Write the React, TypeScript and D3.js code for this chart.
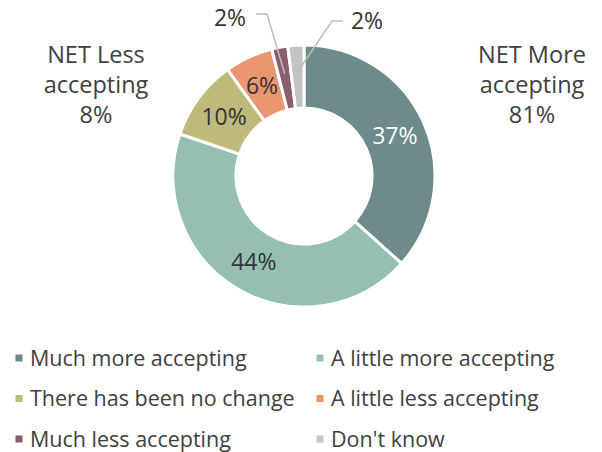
import React from "react";
import * as d3 from "d3";

const categories = [
  "Much more accepting",
  "A little more accepting",
  "There has been no change",
  "A little less accepting",
  "Much less accepting",
  "Don't know",
];
const values = [37, 44, 10, 6, 2, 2];
const colors = ["#6e8a8a", "#94bfb1", "#bfba7c", "#eb9670", "#8a5e6a", "#c3c3c3"];
const labelColors = ["#ffffff", "#333333", "#333333", "#333333", "#333333", "#333333"];
const netLeft = ["NET Less", "accepting", "8%"];
const netRight = ["NET More", "accepting", "81%"];

const FONT = "'Open Sans', Lato, sans-serif";

export default function App() {
  const W = 602, H = 452;
  const cx = 304, cy = 176, R = 131, r = 68;
  const pie = d3.pie<number>().sort(null).value((d) => d);
  const arcs = pie(values);
  const arc = d3.arc<d3.PieArcDatum<number>>().innerRadius(r).outerRadius(R);
  const labelArc = d3.arc<d3.PieArcDatum<number>>().innerRadius((r + R) / 2).outerRadius((r + R) / 2);

  // outer label placement for the two small slices
  const outer: any[] = [
    null, null, null, null,
    { text: [230, 18], start: [256, 14], knee: [267, 14] },
    { text: [367, 21], start: [343, 21], knee: [332, 21] },
  ];

  const nets = [
    { lines: netLeft, x: 96 },
    { lines: netRight, x: 532 },
  ];

  return (
    <svg width={W} height={H}
      style={{ display: "block", background: "#fff", position: "fixed", top: 0, left: 0 }}>
      <g transform={`translate(${cx},${cy})`}>
        {arcs.map((a, i) => (
          <path key={i} d={arc(a) || ""} fill={colors[i]} stroke="#fff" strokeWidth={3} />
        ))}
        {arcs.map((a, i) => {
          if (outer[i]) return null;
          const [x, y] = labelArc.centroid(a);
          return (
            <text key={i} x={x} y={y} dy="0.36em" textAnchor="middle" fontFamily={FONT}
              fontSize={23} fill={labelColors[i]}>{values[i]}%</text>
          );
        })}
      </g>
      {arcs.map((a, i) => {
        const o = outer[i];
        if (!o) return null;
        const mid = (a.startAngle + a.endAngle) / 2;
        const rr = R - 27;
        const px = cx + Math.sin(mid) * rr;
        const py = cy - Math.cos(mid) * rr;
        return (
          <g key={i}>
            <polyline points={`${o.start[0]},${o.start[1]} ${o.knee[0]},${o.knee[1]} ${px},${py}`}
              fill="none" stroke="#bdbdbd" strokeWidth={1.5} />
            <text x={o.text[0]} y={o.text[1]} dy="0.36em" textAnchor="middle" fontFamily={FONT}
              fontSize={23} fill="#333">{values[i]}%</text>
          </g>
        );
      })}
      {nets.map((n, i) => (
        <text key={i} textAnchor="middle" fontFamily={FONT} fontSize={23.5} fill="#404040">
          {n.lines.map((l, j) => (
            <tspan key={j} x={n.x} y={63 + j * 30}>{l}</tspan>
          ))}
        </text>
      ))}
      {categories.map((c, i) => {
        const col = i % 2, row = Math.floor(i / 2);
        const x = col === 0 ? 15.5 : 316.5;
        const y = 358 + row * 40.5;
        return (
          <g key={i}>
            <rect x={x} y={y - 3.5} width={7} height={7} fill={colors[i]} />
            <text x={x + 14.5} y={y} dy="0.36em" fontFamily={FONT} fontSize={21.5} fill="#404040">{c}</text>
          </g>
        );
      })}
    </svg>
  );
}
